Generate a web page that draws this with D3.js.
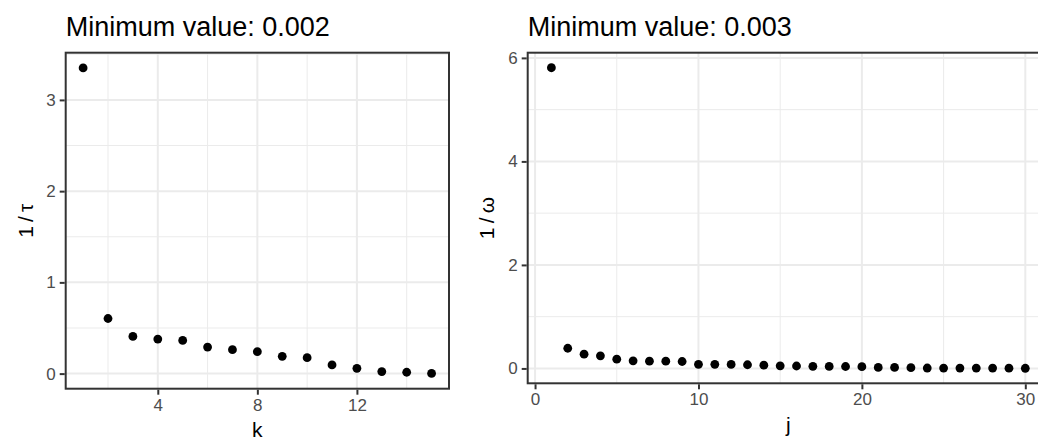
<!DOCTYPE html>
<html>
<head>
<meta charset="utf-8">
<script src="https://cdn.jsdelivr.net/npm/d3@7"></script>
<style>
  html, body { margin: 0; padding: 0; background: #ffffff; }
  svg { display: block; overflow: hidden; font-family: "Liberation Sans", Arial, Helvetica, sans-serif; }
</style>
</head>
<body>
<svg id="chart" width="1038" height="441"></svg>
<script>
// Left panel: reciprocal of tau for each k
const kValues = [1, 2, 3, 4, 5, 6, 7, 8, 9, 10, 11, 12, 13, 14, 15];
const invTau = [3.35, 0.604, 0.408, 0.379, 0.364, 0.291, 0.262, 0.240, 0.189, 0.175, 0.095, 0.058, 0.022, 0.015, 0.002];
const kTicks = [4, 8, 12];
const kMinorTicks = [2, 6, 10, 14];
const tauTicks = [0, 1, 2, 3];
const tauMinorTicks = [0.5, 1.5, 2.5, 3.5];

// Right panel: reciprocal of omega for each j
const jValues = [1, 2, 3, 4, 5, 6, 7, 8, 9, 10, 11, 12, 13, 14, 15, 16, 17, 18, 19, 20, 21, 22, 23, 24, 25, 26, 27, 28, 29, 30];
const invOmega = [5.81, 0.39, 0.275, 0.243, 0.179, 0.147, 0.14, 0.14, 0.134, 0.08, 0.08, 0.077, 0.071, 0.062, 0.05, 0.047, 0.04, 0.038, 0.037, 0.033, 0.02, 0.019, 0.014, 0.008, 0.007, 0.007, 0.006, 0.006, 0.005, 0.003];
const jTicks = [0, 10, 20, 30];
const jMinorTicks = [5, 15, 25];
const omegaTicks = [0, 2, 4, 6];
const omegaMinorTicks = [1, 3, 5];

const svg = d3.select("#chart");
const fmtMin = d3.format(".3f");

// ggplot-like 5% expansion of a continuous range
function expand(ext) {
  const pad = (ext[1] - ext[0]) * 0.05;
  return [ext[0] - pad, ext[1] + pad];
}

function drawPanel(cfg) {
  const { left, right, top, bottom } = cfg.box;
  const x = d3.scaleLinear().domain(expand(d3.extent(cfg.xs))).range([left, right]);
  const y = d3.scaleLinear().domain(expand(d3.extent(cfg.ys))).range([bottom, top]);
  const g = svg.append("g");

  const clipId = "clip-" + cfg.id;
  svg.append("clipPath").attr("id", clipId)
    .append("rect").attr("x", left).attr("y", top)
    .attr("width", right - left).attr("height", bottom - top);

  const grid = g.append("g").attr("clip-path", `url(#${clipId})`);
  // minor grid
  grid.selectAll(".vminor").data(cfg.xMinor).join("line")
    .attr("x1", d => x(d)).attr("x2", d => x(d)).attr("y1", top).attr("y2", bottom)
    .attr("stroke", "#ebebeb").attr("stroke-width", 1);
  grid.selectAll(".hminor").data(cfg.yMinor).join("line")
    .attr("class", "hminor")
    .attr("y1", d => y(d)).attr("y2", d => y(d)).attr("x1", left).attr("x2", right)
    .attr("stroke", "#ebebeb").attr("stroke-width", 1);
  // major grid
  grid.selectAll(".vmajor").data(cfg.xTicks).join("line")
    .attr("class", "vmajor")
    .attr("x1", d => x(d)).attr("x2", d => x(d)).attr("y1", top).attr("y2", bottom)
    .attr("stroke", "#ebebeb").attr("stroke-width", 2);
  grid.selectAll(".hmajor").data(cfg.yTicks).join("line")
    .attr("class", "hmajor")
    .attr("y1", d => y(d)).attr("y2", d => y(d)).attr("x1", left).attr("x2", right)
    .attr("stroke", "#ebebeb").attr("stroke-width", 2);

  // points
  g.append("g").selectAll("circle").data(cfg.xs.map((v, i) => [v, cfg.ys[i]])).join("circle")
    .attr("cx", d => x(d[0])).attr("cy", d => y(d[1])).attr("r", 4.4)
    .attr("fill", "#000000");

  // panel border
  g.append("rect").attr("x", left).attr("y", top)
    .attr("width", right - left).attr("height", bottom - top)
    .attr("fill", "none").attr("stroke", "#333333").attr("stroke-width", 2);

  // axes
  const xAxis = g.append("g").attr("transform", `translate(0,${bottom + 1})`)
    .call(d3.axisBottom(x).tickValues(cfg.xTicks).tickSize(5).tickPadding(4).tickFormat(d3.format("d")));
  const yAxis = g.append("g").attr("transform", `translate(${left - 1},0)`)
    .call(d3.axisLeft(y).tickValues(cfg.yTicks).tickSize(5).tickPadding(4).tickFormat(d3.format("d")));
  [xAxis, yAxis].forEach(a => {
    a.select(".domain").remove();
    a.selectAll(".tick line").attr("stroke", "#333333").attr("stroke-width", 2);
    a.selectAll(".tick text").attr("fill", "#4d4d4d").attr("font-size", 17)
      .attr("font-family", "'Liberation Sans', Arial, Helvetica, sans-serif");
  });

  // title
  svg.append("text").attr("x", left).attr("y", 36)
    .attr("font-size", 27).attr("fill", "#000000")
    .text("Minimum value: " + fmtMin(d3.min(cfg.ys)));

  // axis titles
  svg.append("text").attr("x", (left + right) / 2).attr("y", cfg.xTitleY)
    .attr("text-anchor", "middle").attr("font-size", 21).attr("fill", "#000000")
    .text(cfg.xLabel);
  svg.append("text")
    .attr("transform", `translate(${cfg.yTitleX},${(top + bottom) / 2}) rotate(-90)`)
    .attr("text-anchor", "middle").attr("font-size", 21).attr("fill", "#000000")
    .text(cfg.yLabel);
}

drawPanel({
  id: "tau",
  box: { left: 65.7, right: 449, top: 52.7, bottom: 388.7 },
  xs: kValues, ys: invTau,
  xTicks: kTicks, xMinor: kMinorTicks, yTicks: tauTicks, yMinor: tauMinorTicks,
  xLabel: "k", yLabel: "1\u2009/\u2009\u03C4", xTitleY: 437, yTitleX: 33
});

drawPanel({
  id: "omega",
  box: { left: 527.7, right: 1049, top: 52.7, bottom: 383.3 },
  xs: jValues, ys: invOmega,
  xTicks: jTicks, xMinor: jMinorTicks, yTicks: omegaTicks, yMinor: omegaMinorTicks,
  xLabel: "j", yLabel: "1\u2009/\u2009\u03C9", xTitleY: 432, yTitleX: 494
});
</script>
</body>
</html>
